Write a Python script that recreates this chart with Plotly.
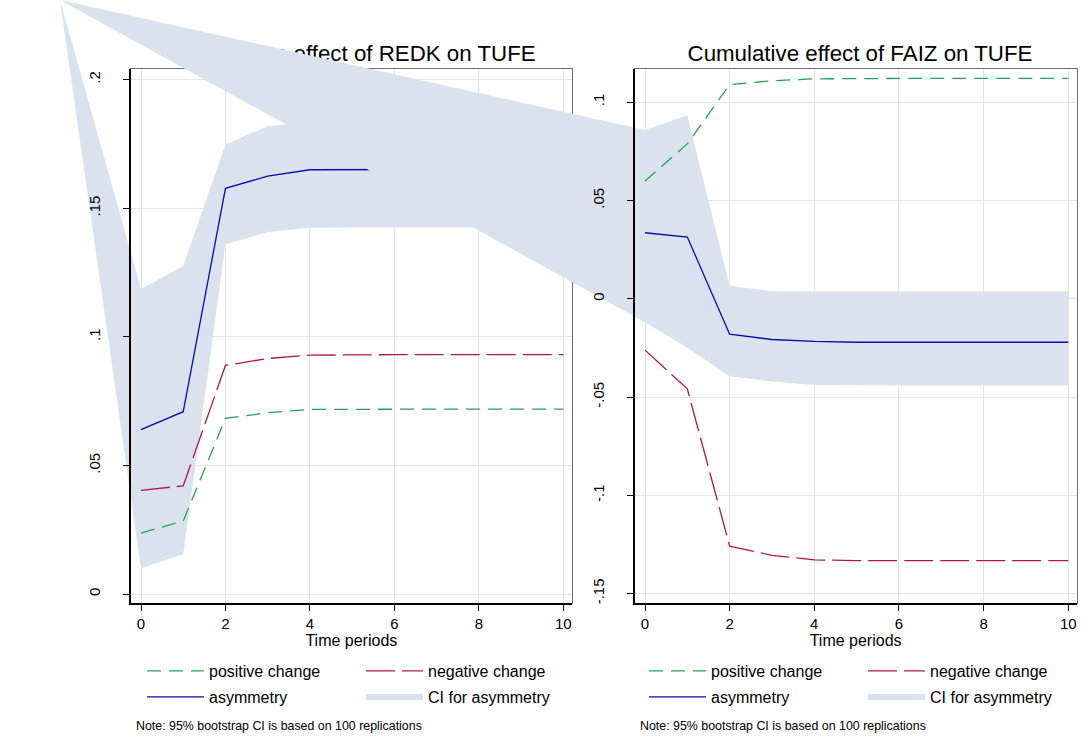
import plotly.graph_objects as go

# ---------------- data ----------------
periods = [0, 1, 2, 3, 4, 5, 6, 7, 8, 9, 10]

# Cumulative effect of REDK on TUFE
redk_positive = [0.0237, 0.0284, 0.0683, 0.0705, 0.0718, 0.0719, 0.0719, 0.0719, 0.0719, 0.0719, 0.0719]
redk_negative = [0.0403, 0.0421, 0.0889, 0.0916, 0.0929, 0.0931, 0.0931, 0.0931, 0.0931, 0.0931, 0.0931]
redk_asymmetry = [0.0639, 0.0709, 0.1578, 0.1625, 0.1650, 0.1651, 0.1651, 0.1651, 0.1651, 0.1651, 0.1651]
redk_ci_upper = [0.1186, 0.1276, 0.1748, 0.1819, 0.1835, 0.1838, 0.1839, 0.1839, 0.1839, 0.1839, 0.1839]
redk_ci_lower = [0.0100, 0.0155, 0.1360, 0.1408, 0.1424, 0.1425, 0.1425, 0.1425, 0.1425, 0.1425, 0.1425]

# Cumulative effect of FAIZ on TUFE
faiz_positive = [0.0599, 0.0788, 0.1090, 0.1109, 0.1119, 0.1121, 0.1121, 0.1121, 0.1121, 0.1121, 0.1121]
faiz_negative = [-0.0261, -0.0458, -0.1258, -0.1305, -0.1328, -0.1332, -0.1332, -0.1332, -0.1332, -0.1332, -0.1332]
faiz_asymmetry = [0.0336, 0.0314, -0.0180, -0.0207, -0.0217, -0.0221, -0.0221, -0.0221, -0.0221, -0.0221, -0.0221]
faiz_ci_upper = [0.0859, 0.0934, 0.0066, 0.0039, 0.0037, 0.0037, 0.0037, 0.0037, 0.0037, 0.0037, 0.0037]
faiz_ci_lower = [-0.0119, -0.0249, -0.0394, -0.0421, -0.0438, -0.0440, -0.0441, -0.0441, -0.0441, -0.0441, -0.0441]

x_tickvals = [0, 2, 4, 6, 8, 10]
x_ticktext = ["0", "2", "4", "6", "8", "10"]
redk_y_tickvals = [0, 0.05, 0.1, 0.15, 0.2]
redk_y_ticktext = ["0", ".05", ".1", ".15", ".2"]
faiz_y_tickvals = [-0.15, -0.1, -0.05, 0, 0.05, 0.1]
faiz_y_ticktext = ["-.15", "-.1", "-.05", "0", ".05", ".1"]

titles = ["Cumulative effect of REDK on TUFE", "Cumulative effect of FAIZ on TUFE"]
series_names = ["positive change", "negative change", "asymmetry", "CI for asymmetry"]
note_text = "Note: 95% bootstrap CI is based on 100 replications"
x_title = "Time periods"

# ---------------- layout (page pixels of the 1083x740 window) ----------------
W, H = 1083, 740


def fx(px):
    return px / W


def fy(py):
    return 1 - py / H


FONT = "Liberation Sans, Arial, sans-serif"
GREEN = "#22a64b"
RED = "#b2154f"
BLUE = "#0a0ab4"
BAND = "#d9e2ed"
GRID = "#e4e4e4"

left_xdom = [fx(130.7), fx(572.0)]
right_xdom = [fx(634.5), fx(1076.7)]
ydom = [fy(603.3), fy(69.2)]

left_xrange = [-0.244, 10.206]
right_xrange = [-0.248, 10.20]
left_yrange = [-0.0036, 0.2041]
right_yrange = [-0.1549, 0.1168]

# the stray vertex both CI polygons were rendered with (page position)
ci_stray_vertex = (fx(60), fy(0))


def full_range(r, d):
    span = (r[1] - r[0]) / (d[1] - d[0])
    start = r[0] - span * d[0]
    return [start, start + span]


def paper_to_data(frac, fr):
    return fr[0] + (fr[1] - fr[0]) * frac


fig = go.Figure()

# subplot x/y: page canvas (drawn first, so the right CI polygon covers the left title)
fig.add_trace(go.Scatter(
    x=[(left_xdom[0] + left_xdom[1]) / 2 + 4.4 / W, (right_xdom[0] + right_xdom[1]) / 2 + 4.4 / W],
    y=[fy(55), fy(55)], mode="text", text=titles,
    textfont=dict(family=FONT, size=22.3, color="black"),
    showlegend=False, hoverinfo="skip", xaxis="x", yaxis="y"))


def panel(xs, pos, neg, asym, up, lo, xr, yr, xdom, base, over, lines, leg_top, leg_bottom):
    bx, by = base
    ox, oy = over
    lx, ly = lines
    # base subplot: grid and frame, below the polygon
    fig.add_trace(go.Scatter(x=[xs[0]], y=[yr[0]], mode="markers", marker=dict(opacity=0),
                             showlegend=False, hoverinfo="skip", xaxis=bx, yaxis=by))
    # CI polygon on a page-wide axis pair carrying the panel's own scale
    fxr = full_range(xr, xdom)
    fyr = full_range(yr, ydom)
    vx = paper_to_data(ci_stray_vertex[0], fxr)
    vy = paper_to_data(ci_stray_vertex[1], fyr)
    px = [vx] + list(xs) + list(xs[::-1]) + [vx]
    py = [vy] + list(up) + list(lo[::-1]) + [vy]
    fig.add_trace(go.Scatter(x=px, y=py, mode="none", fill="toself", fillcolor=BAND,
                             name=series_names[3], legend=leg_bottom, legendrank=4,
                             hoverinfo="skip", xaxis=ox, yaxis=oy))
    # lines on top
    fig.add_trace(go.Scatter(x=xs, y=pos, mode="lines", name=series_names[0],
                             line=dict(color=GREEN, width=1.3, dash="14px,8px"),
                             legend=leg_top, legendrank=1, xaxis=lx, yaxis=ly))
    fig.add_trace(go.Scatter(x=xs, y=neg, mode="lines", name=series_names[1],
                             line=dict(color=RED, width=1.3, dash="29px,7px"),
                             legend=leg_top, legendrank=2, xaxis=lx, yaxis=ly))
    fig.add_trace(go.Scatter(x=xs, y=asym, mode="lines", name=series_names[2],
                             line=dict(color=BLUE, width=1.3),
                             legend=leg_bottom, legendrank=3, xaxis=lx, yaxis=ly))
    return fxr, fyr


lfx, lfy = panel(periods, redk_positive, redk_negative, redk_asymmetry, redk_ci_upper, redk_ci_lower,
                 left_xrange, left_yrange, left_xdom, ("x2", "y2"), ("x3", "y3"), ("x4", "y4"),
                 "legend", "legend3")
rfx, rfy = panel(periods, faiz_positive, faiz_negative, faiz_asymmetry, faiz_ci_upper, faiz_ci_lower,
                 right_xrange, right_yrange, right_xdom, ("x5", "y5"), ("x6", "y6"), ("x7", "y7"),
                 "legend2", "legend4")

hidden = dict(visible=False, fixedrange=True, showgrid=False, zeroline=False)


def grid_axis(dom, rng, vals, anchor):
    return dict(domain=dom, range=rng, anchor=anchor, tickvals=vals, showgrid=True,
                gridcolor=GRID, gridwidth=1.4, zeroline=False, showticklabels=False,
                ticks="", showline=True, linecolor="#6e6e6e", linewidth=1.3, mirror=True,
                fixedrange=True)


def tick_axis(dom, rng, vals, text, anchor, is_y):
    d = dict(domain=dom, range=rng, anchor=anchor, tickvals=vals, ticktext=text,
             showgrid=False, zeroline=False, ticks="outside", ticklen=6, tickwidth=1.3,
             tickcolor="black", showline=True, linecolor="black", linewidth=1.6,
             tickfont=dict(family=FONT, size=15, color="black"), fixedrange=True)
    if is_y:
        d.update(tickangle=-90, ticklabelstandoff=17)
    else:
        d.update(title=dict(text=x_title, font=dict(family=FONT, size=16, color="black"), standoff=0))
    return d


def legend_row(x_px, y_px):
    return dict(x=fx(x_px), y=fy(y_px), xanchor="left", yanchor="middle", orientation="h",
                itemwidth=57, entrywidth=147, entrywidthmode="pixels", bgcolor="rgba(0,0,0,0)",
                font=dict(family=FONT, size=16, color="black"), traceorder="normal")


fig.update_layout(
    width=W, height=H,
    margin=dict(l=0, r=0, t=0, b=0, autoexpand=False),
    paper_bgcolor="white", plot_bgcolor="rgba(0,0,0,0)",
    xaxis=dict(domain=[0, 1], range=[0, 1], anchor="y", **hidden),
    yaxis=dict(domain=[0, 1], range=[0, 1], anchor="x", **hidden),
    xaxis2=grid_axis(left_xdom, left_xrange, x_tickvals, "y2"),
    yaxis2=grid_axis(ydom, left_yrange, redk_y_tickvals, "x2"),
    xaxis3=dict(domain=[0, 1], range=lfx, anchor="y3", **hidden),
    yaxis3=dict(domain=[0, 1], range=lfy, anchor="x3", **hidden),
    xaxis4=tick_axis(left_xdom, left_xrange, x_tickvals, x_ticktext, "y4", False),
    yaxis4=tick_axis(ydom, left_yrange, redk_y_tickvals, redk_y_ticktext, "x4", True),
    xaxis5=grid_axis(right_xdom, right_xrange, x_tickvals, "y5"),
    yaxis5=grid_axis(ydom, right_yrange, faiz_y_tickvals, "x5"),
    xaxis6=dict(domain=[0, 1], range=rfx, anchor="y6", **hidden),
    yaxis6=dict(domain=[0, 1], range=rfy, anchor="x6", **hidden),
    xaxis7=tick_axis(right_xdom, right_xrange, x_tickvals, x_ticktext, "y7", False),
    yaxis7=tick_axis(ydom, right_yrange, faiz_y_tickvals, faiz_y_ticktext, "x7", True),
    legend=legend_row(142, 671),
    legend3=legend_row(142, 697),
    legend2=legend_row(644, 671),
    legend4=legend_row(644, 697),
    annotations=[
        dict(text=note_text, x=fx(134), y=fy(726), xref="paper", yref="paper",
             xanchor="left", yanchor="middle", showarrow=False,
             font=dict(family=FONT, size=12.4, color="black")),
        dict(text=note_text, x=fx(638), y=fy(726), xref="paper", yref="paper",
             xanchor="left", yanchor="middle", showarrow=False,
             font=dict(family=FONT, size=12.4, color="black")),
    ],
)

# the figure fills the window exactly: no page margin, no scrollbars
page_fit = ("document.documentElement.style.overflow='hidden';"
            "document.body.style.margin='0';document.body.style.overflow='hidden';")
fig.write_html("out.html", post_script=page_fit, config={"displayModeBar": False})
